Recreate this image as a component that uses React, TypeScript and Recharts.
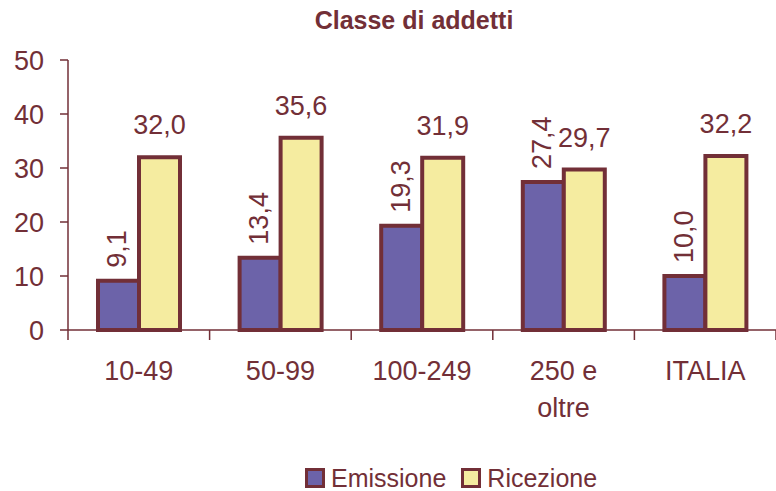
import { Bar, BarChart, LabelList, XAxis, YAxis } from "recharts";

const categories = ["10-49", "50-99", "100-249", "250 e oltre", "ITALIA"];
const emissione = [9.1, 13.4, 19.3, 27.4, 10.0];
const ricezione = [32.0, 35.6, 31.9, 29.7, 32.2];
const yTicks = [0, 10, 20, 30, 40, 50];

const data = categories.map((name, i) => ({ name, emissione: emissione[i], ricezione: ricezione[i] }));

const DARK = "#722f37";
const PURPLE = "#6c63a9";
const YELLOW = "#f5eca0";
const FONT = "'Liberation Sans', Arial, sans-serif";

const fmt = (v: number) => v.toFixed(1).replace(".", ",");

const PLOT_LEFT = 68;
const PLOT_RIGHT = 776;
const half = (PLOT_RIGHT - PLOT_LEFT) / categories.length / 2;

function CategoryTick(props: any) {
  const { x, y, payload, index } = props;
  const words = String(payload.value) === "250 e oltre" ? ["250 e", "oltre"] : [payload.value];
  return (
    <g>
      {index === 0 && <line x1={x - half} x2={x - half} y1={y} y2={y + 10} stroke={DARK} strokeWidth={1.5} />}
      <line x1={x + half} x2={x + half} y1={y} y2={y + 10} stroke={DARK} strokeWidth={1.5} />
      {words.map((w: string, i: number) => (
        <text key={i} x={x} y={y + 50 + i * 37} textAnchor="middle" fill={DARK} fontSize={27} fontFamily={FONT}>
          {w}
        </text>
      ))}
    </g>
  );
}

function RotatedLabel(props: any) {
  const { x, y, width, value } = props;
  const cx = x + width / 2 - 1;
  const cy = y - 13;
  return (
    <text x={cx} y={cy} transform={`rotate(-90 ${cx} ${cy})`} textAnchor="start" dominantBaseline="central" fill={DARK} fontSize={27} fontFamily={FONT}>
      {fmt(value)}
    </text>
  );
}

function TopLabel(props: any) {
  const { x, y, width, value } = props;
  return (
    <text x={x + width / 2} y={y - 23} textAnchor="middle" fill={DARK} fontSize={27} fontFamily={FONT}>
      {fmt(value)}
    </text>
  );
}

const legendItems = [
  { label: "Emissione", color: PURPLE },
  { label: "Ricezione", color: YELLOW },
];

export default function App() {
  return (
    <div style={{ position: "absolute", left: 0, top: 0, width: 776, height: 491, background: "#fff", overflow: "hidden" }}>
      <div style={{ position: "absolute", top: 6, left: 0, width: 776, paddingLeft: 52, boxSizing: "border-box", textAlign: "center", fontFamily: FONT, fontWeight: "bold", fontSize: 25, color: DARK }}>
        Classe di addetti
      </div>
      <BarChart width={776} height={491} data={data} margin={{ top: 60, right: 0, left: 0, bottom: 131 }} barGap={0} barSize={41}>
        <YAxis
          domain={[0, 50]}
          ticks={yTicks}
          width={PLOT_LEFT}
          axisLine={{ stroke: DARK, strokeWidth: 1.5 }}
          tickLine={{ stroke: DARK, strokeWidth: 1.5 }}
          tickSize={8}
          tickMargin={16}
          tick={{ fill: DARK, fontSize: 27, fontFamily: FONT }}
        />
        <XAxis
          dataKey="name"
          axisLine={{ stroke: DARK, strokeWidth: 1.5 }}
          tickLine={false}
          tickSize={0}
          tickMargin={0}
          height={30}
          interval={0}
          tick={<CategoryTick />}
        />
        <Bar dataKey="emissione" name="Emissione" fill={PURPLE} stroke={DARK} strokeWidth={4} isAnimationActive={false}>
          <LabelList dataKey="emissione" content={<RotatedLabel />} />
        </Bar>
        <Bar dataKey="ricezione" name="Ricezione" fill={YELLOW} stroke={DARK} strokeWidth={4} isAnimationActive={false}>
          <LabelList dataKey="ricezione" content={<TopLabel />} />
        </Bar>
      </BarChart>
      <div style={{ position: "absolute", top: 464, left: 305, display: "flex", gap: 15, fontFamily: FONT, fontSize: 25, color: DARK, lineHeight: "28px" }}>
        {legendItems.map((it) => (
          <div key={it.label} style={{ display: "flex", alignItems: "center" }}>
            <span style={{ display: "inline-block", width: 14, height: 14, background: it.color, border: `3px solid ${DARK}`, marginRight: 6 }} />
            <span>{it.label}</span>
          </div>
        ))}
      </div>
    </div>
  );
}
